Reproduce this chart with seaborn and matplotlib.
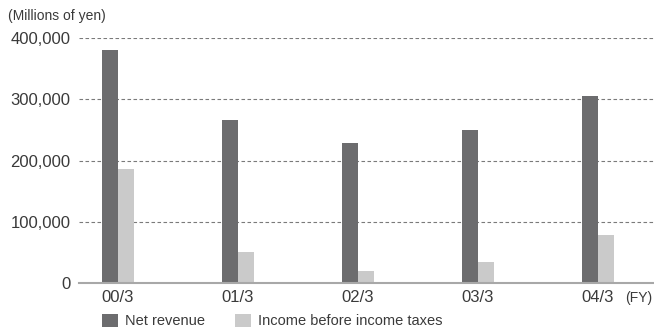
import matplotlib
matplotlib.use("Agg")
import matplotlib.pyplot as plt
import seaborn as sns
import pandas as pd

# Fiscal years and figures (millions of yen)
years = ["00/3", "01/3", "02/3", "03/3", "04/3"]
net_revenue = [380000, 266000, 229000, 250000, 305000]
income_before_taxes = [186000, 51000, 20000, 35000, 78000]
series_names = ["Net revenue", "Income before income taxes"]
y_ticks = [0, 100000, 200000, 300000, 400000]

df = pd.DataFrame({
    "year": years * 2,
    "value": net_revenue + income_before_taxes,
    "series": [series_names[0]] * len(years) + [series_names[1]] * len(years),
})

sns.set_theme(style="white")
plt.rcParams["font.family"] = ["Liberation Sans", "DejaVu Sans"]
text_color = "#3a3a3a"

fig = plt.figure(figsize=(6.54, 3.33), dpi=100)
ax = fig.add_axes([79 / 654, 1 - 283 / 333, 1 - 79 / 654, (283 - 38) / 333])

sns.barplot(
    data=df, x="year", y="value", hue="series", ax=ax,
    palette=["#6c6c6e", "#cacaca"], saturation=1, width=0.267,
    linewidth=0, gap=0,
)

ax.set_ylim(0, 400000)
ax.set_xlim(-0.325, 4.467)
ax.set_yticks(y_ticks)
ax.set_yticklabels([f"{v:,}" for v in y_ticks])
ax.set_xlabel("")
ax.set_ylabel("")

ax.yaxis.grid(True, color="#7a7a7a", linestyle=(0, (3.2, 2.2)), linewidth=0.8)
ax.set_axisbelow(True)
for side in ["top", "right", "left"]:
    ax.spines[side].set_visible(False)
ax.spines["bottom"].set_color("#a8a8a8")
ax.spines["bottom"].set_linewidth(1.5)
ax.tick_params(axis="both", length=0, labelsize=12, colors=text_color)
ax.tick_params(axis="y", pad=6)
ax.tick_params(axis="x", pad=5)

fig.text(8 / 654, 1 - 16 / 333, "(Millions of yen)", fontsize=10,
         color=text_color, va="center", ha="left")
fig.text(652 / 654, 1 - 298 / 333, "(FY)", fontsize=10,
         color=text_color, va="center", ha="right")

ax.legend_.remove()
handles, labels = ax.get_legend_handles_labels()
fig.legend(
    handles, labels, loc="center left",
    bbox_to_anchor=(102 / 654, 1 - 321 / 333), ncol=2, frameon=False,
    fontsize=10.5, labelcolor=text_color, borderpad=0, borderaxespad=0,
    handlelength=1.1, handleheight=1.0, handletextpad=0.5, columnspacing=2.0,
)

fig.savefig("out.png", dpi=100)
